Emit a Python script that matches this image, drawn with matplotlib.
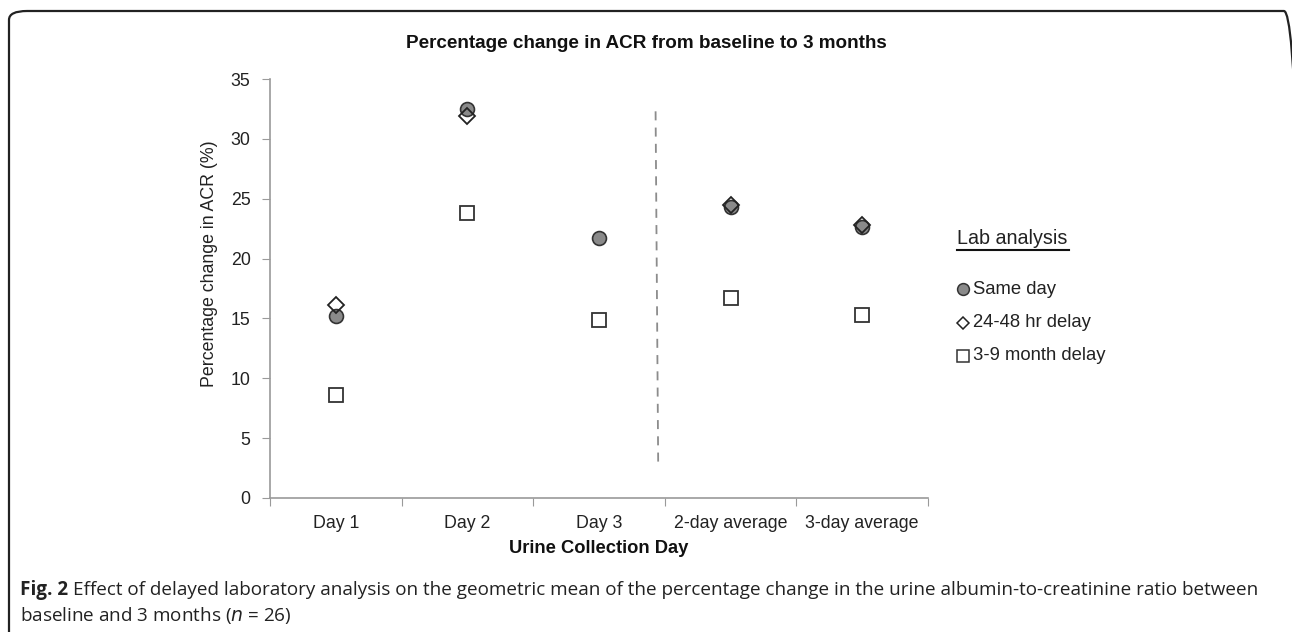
import numpy as np
import matplotlib.pyplot as plt
from matplotlib.patches import FancyBboxPatch
from matplotlib.lines import Line2D

categories = ["Day 1", "Day 2", "Day 3", "2-day average", "3-day average"]
same_day = [15.2, 32.5, 21.7, 24.3, 22.6]
delay_24_48 = [16.1, 31.9, np.nan, 24.5, 22.8]
delay_3_9 = [8.6, 23.8, 14.9, 16.7, 15.3]

plt.rcParams["font.family"] = ["Liberation Sans", "DejaVu Sans"]

W, H = 1292, 632
fig = plt.figure(figsize=(W / 100, H / 100), dpi=100)
ax = fig.add_axes([270 / W, 1 - 498 / H, 658 / W, 419 / H])

x = np.arange(1, len(categories) + 1)
ax.plot(x, same_day, "o", ms=10, mfc="#8a8a8a", mec="#333333", mew=1.2, zorder=3)
ax.plot(x, delay_24_48, "D", ms=8, mfc="none", mec="#222222", mew=1.3, zorder=4)
ax.plot(x, delay_3_9, "s", ms=9.5, mfc="white", mec="#333333", mew=1.3, zorder=3)

# dashed separator between single days and averages
ax.plot([3.43, 3.45], [32.3, 2.5], ls=(0, (5, 4)), color="#8c8c8c", lw=1.3)

ax.set_xlim(0.5, 5.5)
ax.set_ylim(0, 35)
ax.set_yticks(range(0, 36, 5))
ax.set_xticks(np.arange(0.5, 5.6, 1))
ax.set_xticklabels([])
ax.set_xticks(x, minor=True)
ax.set_xticklabels(categories, minor=True)
ax.tick_params(axis="x", which="minor", length=0, pad=12, labelsize=12.8, colors="#222222")
ax.tick_params(axis="x", which="major", length=6, direction="out", color="#9a9a9a")
ax.tick_params(axis="y", length=6, direction="out", color="#9a9a9a", labelsize=12.8,
               labelcolor="#222222", pad=8)
for s in ["top", "right"]:
    ax.spines[s].set_visible(False)
for s in ["left", "bottom"]:
    ax.spines[s].set_color("#9a9a9a")
    ax.spines[s].set_linewidth(1.2)

ax.set_ylabel("Percentage change in ACR (%)", fontsize=12.8, color="#222222")
ax.yaxis.set_label_coords((218 - 270) / 658, (498 - 264) / 419)
ax.set_xlabel("Urine Collection Day", fontsize=13.2, fontweight="bold", color="#111111", labelpad=6)

fig.text(0.5, 1 - 43 / H, "Percentage change in ACR from baseline to 3 months",
         ha="center", va="center", fontsize=13.6, fontweight="bold", color="#111111")

# legend
fig.text(957 / W, 1 - 238 / H, "Lab analysis", ha="left", va="center", fontsize=14.2, color="#222222")
fig.add_artist(Line2D([957 / W, 1069 / W], [1 - 250 / H, 1 - 250 / H], color="#111111", lw=1.5))
legend_items = [("o", dict(mfc="#8a8a8a", mec="#333333"), "Same day"),
                ("D", dict(mfc="none", mec="#222222"), "24-48 hr delay"),
                ("s", dict(mfc="white", mec="#333333"), "3-9 month delay")]
for i, (m, kw, lab) in enumerate(legend_items):
    yy = 1 - (289 + i * 33.5) / H
    ms = 6.5 if m == "D" else 8.5
    fig.add_artist(Line2D([963 / W], [yy], marker=m, ms=ms, mew=1.1, ls="none", **kw))
    fig.text(973 / W, yy, lab, ha="left", va="center", fontsize=13.3, color="#222222")

# frame (open at the bottom, right edge runs off the picture)
frame = FancyBboxPatch((9 / W, -30 / H), (1302 - 9) / W, (632 - 11 + 30) / H,
                       boxstyle="round,pad=0,rounding_size=0.014",
                       transform=fig.transFigure, fill=False, ec="#222222", lw=1.6,
                       clip_on=False)
fig.add_artist(frame)

# caption
cap_font = ["Open Sans", "DejaVu Sans"]
t1 = fig.text(20 / W, 1 - 590 / H, "Fig. 2", fontsize=13.6, fontweight="bold", va="center",
              ha="left", family=cap_font, color="#222222")
fig.canvas.draw()
bb = t1.get_window_extent()
fig.text((bb.x1 + 5) / W, 1 - 590 / H,
         "Effect of delayed laboratory analysis on the geometric mean of the percentage change in the urine albumin-to-creatinine ratio between",
         fontsize=13.6, va="center", ha="left", family=cap_font, color="#222222")
fig.text(20 / W, 1 - 615 / H, "baseline and 3 months ($n$ = 26)", fontsize=13.6, va="center",
         ha="left", family=cap_font, color="#222222")

fig.savefig("out.png", dpi=100)
